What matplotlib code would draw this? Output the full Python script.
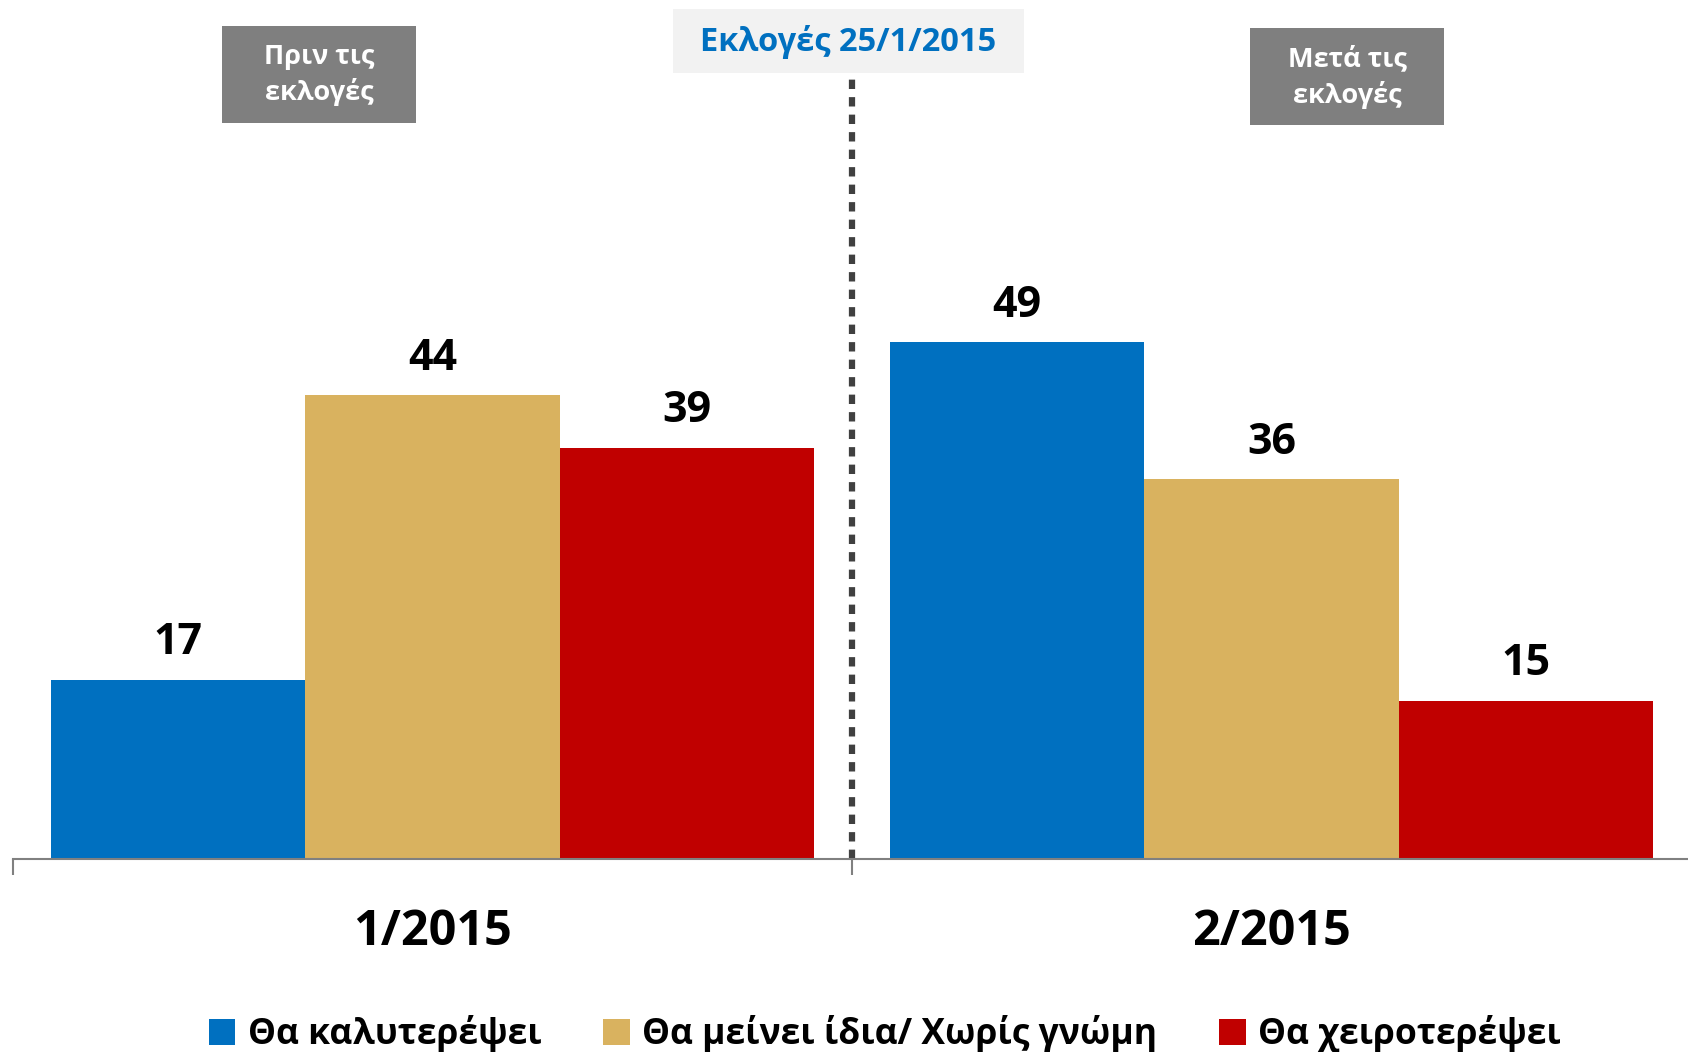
import matplotlib.pyplot as plt
import matplotlib.patches as mpatches
import numpy as np

plt.rcParams['font.family'] = ['Open Sans', 'DejaVu Sans']

# Δεδομένα
periods = ["1/2015", "2/2015"]
series = ["Θα καλυτερέψει", "Θα μείνει ίδια/ Χωρίς γνώμη", "Θα χειροτερέψει"]
values = [[17, 49], [44, 36], [39, 15]]
colors = ["#0070C0", "#D9B25F", "#C00000"]

W, H = 1688, 1052
fig = plt.figure(figsize=(W / 100, H / 100), dpi=100)

def fx(px):
    return px / W

def fy(py):
    return 1 - py / H

# axes: baseline at y=859 px, category width 839 px
ax = fig.add_axes([fx(13), fy(859), fx(1691 - 13), 859 / H])
ax.set_xlim(-0.5, 1.5)
ax.set_ylim(0, 859 / 10.55)

x = np.arange(len(periods))
bw = 0.3035
for i, (name, vals, c) in enumerate(zip(series, values, colors)):
    pos = x + (i - 1) * bw
    ax.bar(pos, vals, bw, color=c, label=name)
    for xp, v in zip(pos, vals):
        ax.annotate(str(v), (xp, v), xytext=(0, 11), textcoords="offset points",
                    ha="center", va="bottom", fontsize=31, fontweight="bold")

for s in ["top", "right", "left"]:
    ax.spines[s].set_visible(False)
ax.spines["bottom"].set_color("#808080")
ax.spines["bottom"].set_linewidth(1.5)
ax.set_yticks([])
ax.set_xticks(x)
ax.set_xticklabels(periods, fontsize=35, fontweight="bold")
ax.tick_params(axis="x", which="major", length=0, pad=35)
ax.set_xticks([-0.5, 0.5, 1.5], minor=True)
ax.tick_params(axis="x", which="minor", length=11.5, width=1.5, color="#808080")

# διακεκομμένη γραμμή εκλογών
ax.plot([0.5, 0.5], [0, (859 - 78) / 10.55], color="#404040", lw=4.5,
        linestyle=(0, (1.5, 1.3)), clip_on=False)

# πλαίσια κειμένου
def box(x0, y0, x1, y1, fc):
    fig.patches.append(mpatches.Rectangle((fx(x0), fy(y1)), fx(x1 - x0), (y1 - y0) / H,
                                          transform=fig.transFigure, facecolor=fc,
                                          edgecolor="none", zorder=0))

box(222, 26, 416, 123, "#7F7F7F")
fig.text(fx(319), fy(75), "Πριν τις\nεκλογές", ha="center", va="center",
         color="white", fontsize=19.5, fontweight="bold", linespacing=1.4)
box(1250, 28, 1444, 125, "#7F7F7F")
fig.text(fx(1347), fy(77), "Μετά τις\nεκλογές", ha="center", va="center",
         color="white", fontsize=19.5, fontweight="bold", linespacing=1.4)
box(673, 9, 1024, 73, "#F2F2F2")
fig.text(fx(848), fy(42), "Εκλογές 25/1/2015", ha="center", va="center",
         color="#0070C0", fontsize=23.5, fontweight="bold")

fig.legend(loc="center", bbox_to_anchor=(fx(885), fy(1034)), ncol=3, frameon=False,
           handlelength=0.75, handleheight=0.75, handletextpad=0.35,
           columnspacing=1.75, prop={"weight": "bold", "size": 25.5})

fig.savefig("out.png", dpi=100)
